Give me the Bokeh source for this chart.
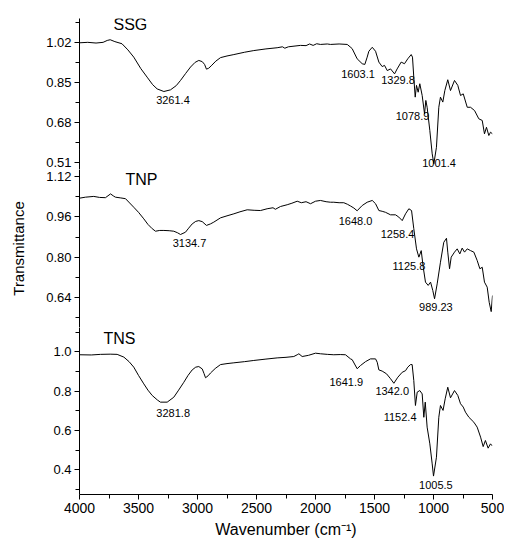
from bokeh.plotting import figure
from bokeh.layouts import column
from bokeh.models import Range1d, FixedTicker, PrintfTickFormatter
from bokeh.embed import file_html
from bokeh.resources import INLINE
from bokeh.core.properties import value

FONT = "Liberation Sans"

# ---------------- data ----------------
ssg_wn = [4000, 3930, 3860, 3800, 3765, 3740, 3700, 3640, 3590, 3540, 3480, 3427, 3380, 3342, 3285,
          3229, 3180, 3144, 3100, 3059, 3020, 2989, 2960, 2940, 2924, 2905, 2884, 2845, 2805, 2750,
          2692, 2600, 2523, 2420, 2325, 2280, 2260, 2230, 2127, 2080, 2050, 2020, 1990, 1958, 1900,
          1873, 1800, 1731, 1700, 1689, 1647, 1604, 1582, 1562, 1548, 1519, 1491, 1463, 1435, 1415,
          1392, 1364, 1330, 1308, 1274, 1246, 1218, 1189, 1178, 1167, 1155, 1144, 1130, 1116, 1096,
          1076, 1065, 1054, 1031, 1011, 997, 975, 955, 941, 921, 904, 879, 856, 822, 794,
          771, 748, 714, 686, 652, 616, 587, 568, 551, 531, 517, 500]
ssg_t = [1.020, 1.022, 1.019, 1.022, 1.030, 1.033, 1.025, 1.016, 0.990, 0.959, 0.910, 0.874, 0.842, 0.824, 0.813,
         0.820, 0.838, 0.860, 0.890, 0.917, 0.937, 0.945, 0.940, 0.928, 0.908, 0.912, 0.922, 0.942, 0.957, 0.964,
         0.970, 0.980, 0.987, 0.994, 0.999, 1.003, 0.997, 1.003, 1.009, 1.008, 1.015, 1.009, 1.016, 1.013, 1.015,
         1.013, 1.015, 1.013, 1.000, 0.995, 0.952, 0.931, 0.928, 0.959, 0.984, 1.001, 0.984, 0.938, 0.919, 0.924,
         0.902, 0.909, 0.888, 0.909, 0.938, 0.931, 0.952, 0.970, 0.959, 0.874, 0.789, 0.839, 0.810, 0.846, 0.796,
         0.718, 0.775, 0.746, 0.647, 0.548, 0.506, 0.576, 0.746, 0.789, 0.768, 0.817, 0.863, 0.817, 0.860, 0.839,
         0.796, 0.803, 0.746, 0.746, 0.732, 0.697, 0.690, 0.633, 0.661, 0.626, 0.640, 0.633]

tnp_wn = [4000, 3950, 3879, 3830, 3780, 3737, 3710, 3695, 3650, 3610, 3575, 3540, 3500, 3455, 3420,
          3384, 3356, 3320, 3285, 3240, 3201, 3170, 3144, 3102, 3075, 3045, 3015, 2989, 2960, 2924,
          2890, 2862, 2805, 2750, 2692, 2640, 2579, 2520, 2466, 2410, 2360, 2340, 2297, 2240, 2200,
          2155, 2120, 2080, 2042, 2000, 1958, 1910, 1873, 1845, 1800, 1760, 1730, 1703, 1675, 1647,
          1625, 1604, 1562, 1519, 1491, 1463, 1435, 1407, 1364, 1322, 1294, 1265, 1237, 1209, 1186,
          1167, 1144, 1124, 1104, 1087, 1068, 1045, 1025, 1006, 991, 969, 941, 913, 890, 879,
          864, 850, 822, 799, 777, 757, 737, 714, 686, 658, 630, 607, 587, 568, 545,
          528, 511, 500]
tnp_t = [1.034, 1.038, 1.041, 1.037, 1.036, 1.051, 1.042, 1.038, 1.035, 1.032, 1.015, 0.998, 0.978, 0.952, 0.930,
         0.913, 0.903, 0.906, 0.906, 0.905, 0.903, 0.897, 0.890, 0.899, 0.915, 0.932, 0.942, 0.945, 0.941, 0.926,
         0.932, 0.939, 0.956, 0.964, 0.972, 0.980, 0.988, 0.986, 0.985, 0.992, 0.996, 0.990, 1.001, 1.008, 1.014,
         1.022, 1.016, 1.020, 1.012, 1.022, 1.025, 1.020, 1.018, 1.018, 1.016, 1.016, 1.010, 1.003, 0.995, 0.984,
         0.995, 1.005, 1.018, 1.025, 1.012, 0.985, 0.982, 0.978, 0.968, 0.968, 0.959, 0.945, 0.972, 0.992, 0.985,
         0.913, 0.833, 0.800, 0.826, 0.760, 0.701, 0.688, 0.701, 0.668, 0.635, 0.694, 0.780, 0.859, 0.875, 0.820,
         0.754, 0.800, 0.820, 0.833, 0.813, 0.836, 0.820, 0.833, 0.826, 0.820, 0.787, 0.754, 0.760, 0.701, 0.681,
         0.621, 0.584, 0.648]

tns_wn = [4000, 3900, 3822, 3740, 3681, 3624, 3580, 3540, 3500, 3455, 3420, 3384, 3340, 3314, 3257,
          3201, 3160, 3116, 3080, 3045, 3015, 2989, 2960, 2945, 2932, 2910, 2890, 2850, 2805, 2750,
          2692, 2600, 2523, 2420, 2325, 2250, 2184, 2155, 2141, 2113, 2060, 2000, 1958, 1900, 1845,
          1790, 1746, 1703, 1689, 1647, 1619, 1576, 1534, 1491, 1477, 1463, 1435, 1398, 1364, 1336,
          1302, 1265, 1237, 1218, 1195, 1181, 1167, 1153, 1138, 1116, 1096, 1082, 1070, 1054, 1031,
          1011, 1000, 975, 955, 941, 919, 901, 879, 856, 822, 794, 771, 748, 729, 700,
          658, 630, 601, 579, 560, 537, 517, 503]
tns_t = [0.985, 0.984, 0.987, 0.988, 0.987, 0.973, 0.950, 0.922, 0.880, 0.837, 0.805, 0.778, 0.755, 0.744, 0.744,
         0.769, 0.805, 0.845, 0.880, 0.908, 0.922, 0.925, 0.913, 0.890, 0.868, 0.878, 0.892, 0.915, 0.935, 0.940,
         0.944, 0.950, 0.956, 0.963, 0.969, 0.972, 0.976, 0.985, 0.990, 0.976, 0.982, 0.993, 0.990, 0.987, 0.985,
         0.986, 0.985, 0.964, 0.960, 0.914, 0.930, 0.950, 0.964, 0.964, 0.947, 0.908, 0.902, 0.888, 0.863, 0.840,
         0.871, 0.896, 0.904, 0.922, 0.935, 0.935, 0.854, 0.727, 0.795, 0.803, 0.786, 0.667, 0.744, 0.617, 0.532,
         0.430, 0.368, 0.464, 0.667, 0.727, 0.702, 0.761, 0.820, 0.766, 0.803, 0.778, 0.736, 0.719, 0.693, 0.667,
         0.642, 0.617, 0.566, 0.518, 0.549, 0.510, 0.532, 0.522]

# peak annotations (text, label x, label y)
ssg_peaks = ["3261.4", "1603.1", "1329.8", "1078.9", "1001.4"]
ssg_px = [3208, 1640, 1301, 1178, 953]
ssg_py = [0.779, 0.888, 0.860, 0.707, 0.508]

tnp_peaks = ["3134.7", "1648.0", "1258.4", "1125.8", "989.23"]
tnp_px = [3068, 1661, 1305, 1208, 980]
tnp_py = [0.855, 0.945, 0.893, 0.763, 0.601]

tns_peaks = ["3281.8", "1641.9", "1342.0", "1152.4", "1005.5"]
tns_px = [3206, 1739, 1350, 1283, 980]
tns_py = [0.688, 0.845, 0.800, 0.671, 0.325]

# y ticks for each panel
ssg_ticks = [0.51, 0.68, 0.85, 1.02]
ssg_minor = [0.595, 0.765, 0.935, 1.105]
tnp_ticks = [0.64, 0.80, 0.96, 1.12]
tnp_minor = [0.56, 0.72, 0.88, 1.04]
tns_ticks = [0.4, 0.6, 0.8, 1.0]
tns_minor = [0.3, 0.5, 0.7, 0.9, 1.1]

x_ticks = [500, 1000, 1500, 2000, 2500, 3000, 3500, 4000]
x_minor = [750, 1250, 1750, 2250, 2750, 3250, 3750]

names = ["SSG", "TNP", "TNS"]
name_x = [3712, 3610, 3797]
name_y = [1.096, 1.108, 1.070]

# ---------------- layout constants ----------------
FRAME_W = 413
LEFT = 79
RIGHT = 12


def panel(wn, t, peaks, px, py, ticks, minor, fmt, yr, fh, top, bottom, name, nx, ny, xaxis=False, ylabel=None):
    p = figure(frame_width=FRAME_W, frame_height=fh,
               x_range=Range1d(4000, 500), y_range=Range1d(*yr),
               output_backend="svg", toolbar_location=None,
               x_axis_location="below" if xaxis else None,
               min_border_left=LEFT, min_border_right=RIGHT,
               min_border_top=top, min_border_bottom=bottom)
    p.outline_line_color = None
    p.grid.visible = False
    p.background_fill_color = None
    p.border_fill_color = None

    p.line(wn, t, line_color="black", line_width=1)
    p.text(x=px, y=py, text=peaks, text_font=value(FONT), text_font_size=value("11px"),
           text_align="center", text_baseline="middle", text_color="black")
    p.text(x=[nx], y=[ny], text=[name], text_font=value(FONT), text_font_size=value("16px"),
           text_align="left", text_baseline="middle", text_color="black")

    ya = p.yaxis[0]
    ya.ticker = FixedTicker(ticks=ticks, minor_ticks=minor)
    ya.formatter = PrintfTickFormatter(format=fmt)
    ya.major_label_text_font = FONT
    ya.major_label_text_font_size = "13px"
    ya.major_label_text_color = "black"
    ya.major_tick_in = 0
    ya.major_tick_out = 5
    ya.minor_tick_in = 0
    ya.minor_tick_out = 4
    ya.major_label_standoff = 3
    ya.axis_line_color = "black"
    ya.major_tick_line_color = "black"
    ya.minor_tick_line_color = "black"
    if ylabel:
        ya.axis_label = ylabel
        ya.axis_label_text_font = FONT
        ya.axis_label_text_font_size = "15px"
        ya.axis_label_text_font_style = "normal"
        ya.axis_label_text_color = "black"
        ya.axis_label_standoff = 16

    if xaxis:
        xa = p.xaxis[0]
        xa.ticker = FixedTicker(ticks=x_ticks, minor_ticks=x_minor)
        xa.major_label_text_font = FONT
        xa.major_label_text_font_size = "14px"
        xa.major_label_text_color = "black"
        xa.major_tick_in = 0
        xa.major_tick_out = 5
        xa.minor_tick_in = 0
        xa.minor_tick_out = 4
        xa.major_label_standoff = 3
        xa.axis_line_color = "black"
        xa.axis_label = "Wavenumber (cm\u207b\u00b9)"
        xa.axis_label_text_font = FONT
        xa.axis_label_text_font_size = "16px"
        xa.axis_label_text_font_style = "normal"
        xa.axis_label_text_color = "black"
        xa.axis_label_standoff = 5
    return p


p1 = panel(ssg_wn, ssg_t, ssg_peaks, ssg_px, ssg_py, ssg_ticks, ssg_minor, "%.2f",
           (0.4815, 1.1233), 151, 18, 0, names[0], name_x[0], name_y[0])
p2 = panel(tnp_wn, tnp_t, tnp_peaks, tnp_px, tnp_py, tnp_ticks, tnp_minor, "%.2f",
           (0.521, 1.1478), 158, 0, 0, names[1], name_x[1], name_y[1], ylabel="Transmittance")
p3 = panel(tns_wn, tns_t, tns_peaks, tns_px, tns_py, tns_ticks, tns_minor, "%.1f",
           (0.2744, 1.1236), 167, 0, 45, names[2], name_x[2], name_y[2], xaxis=True)

layout = column(p1, p2, p3, spacing=0)

open("out.html", "w").write(file_html(layout, INLINE))
